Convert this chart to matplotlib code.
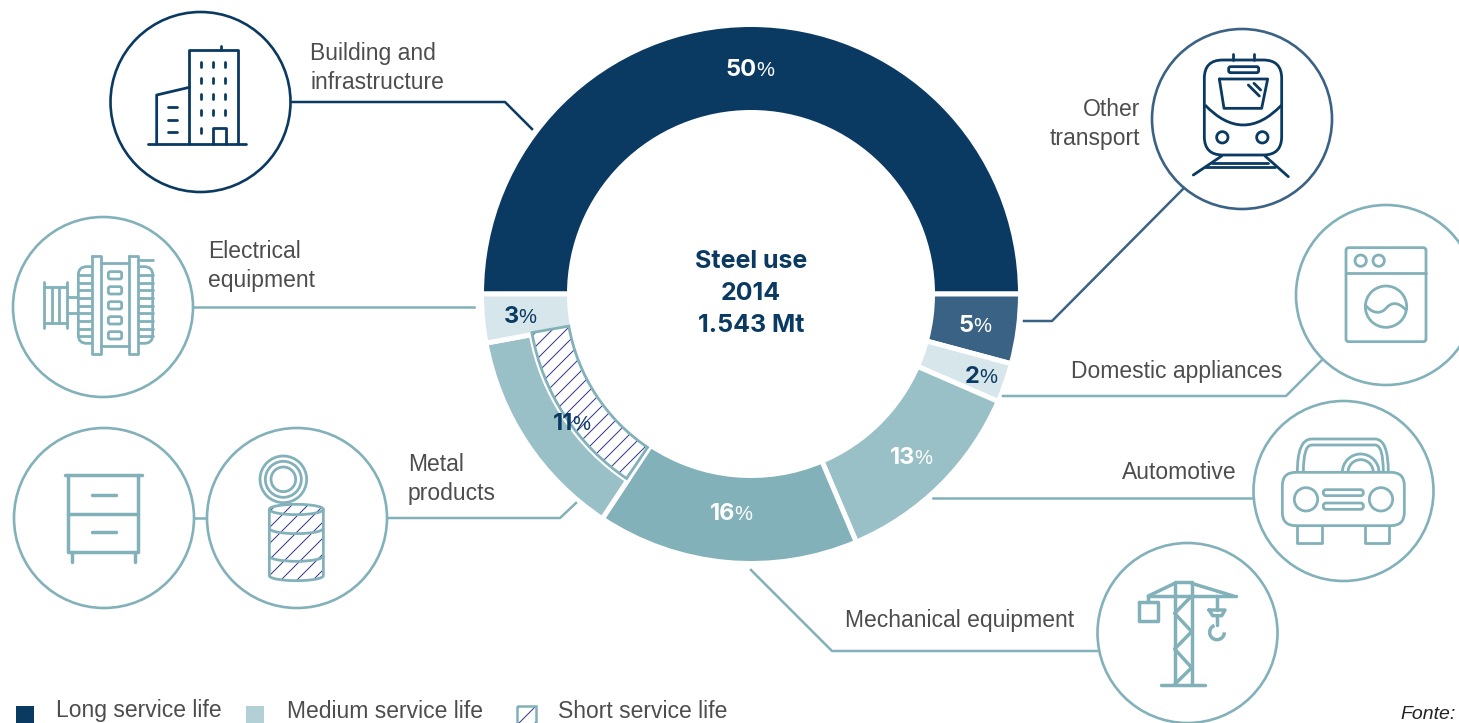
import numpy as np
import matplotlib
matplotlib.use('Agg')
import matplotlib.pyplot as plt
from matplotlib.patches import Wedge, Circle, Rectangle, Polygon, Arc, FancyBboxPatch, PathPatch
from matplotlib.path import Path

# values printed on the ring, clockwise from the top half
segments = ['Building and infrastructure', 'Other transport', 'Domestic appliances',
            'Automotive', 'Mechanical equipment', 'Metal products', 'Electrical equipment']
percents = [50, 5, 2, 13, 16, 11, 3]
# the ring is not drawn to scale, so the spans are read off the picture (degrees)
spans = [180, 15, 8.5, 43.5, 56.5, 46, 10.5]

NAVY = '#0a3a62'
BLUE = '#3a6285'
PALE = '#d6e6ea'
MID = '#9ac0c7'
TEAL = '#82b1b9'
GREY = '#4d4d4d'
HATCH = '#2f2f8f'
ring_colors = [NAVY, BLUE, PALE, MID, TEAL, MID, PALE]
pct_colors = ['white', 'white', NAVY, 'white', 'white', NAVY, NAVY]
pct_x = [757, 974, 980, 915, 735, 573, 519]
pct_y = [76, 332, 383, 464, 520, 430, 323]

legend_names = ['Long service life', 'Medium service life', 'Short service life']

plt.rcParams['font.family'] = ['Liberation Sans', 'DejaVu Sans']

fig = plt.figure(figsize=(14.59, 7.23), dpi=100)
ax = fig.add_axes([0, 0, 1, 1])
ax.set_xlim(0, 1459)
ax.set_ylim(723, 0)
ax.axis('off')

cx, cy = 751, 294
r_out, r_in = 269.5, 181.5


def hatch_lines(patch, x0, x1, y0, y1, step, zo=3):
    # 45 degree lines clipped to the patch, matplotlib's hatch spacing can't be set freely
    for c in np.arange(x0 + y0, x1 + y1, step):
        ln, = ax.plot([c - y0, c - y1], [y0, y1], color=HATCH, lw=0.7, zorder=zo)
        ln.set_clip_path(patch)


# ring
start = 180
for name, span, col in zip(segments, spans, ring_colors):
    if name == 'Metal products':
        ax.add_patch(Wedge((cx, cy), r_out, start, start + span, width=r_out - 223.5,
                           fc=col, ec='white', lw=3.6))
        band = Wedge((cx, cy), 222.5, start + 0.5, start + span + 0.5, width=37.5,
                     fc='white', ec='none', zorder=3)
        ax.add_patch(band)
        hatch_lines(band, 520, 660, 320, 490, 14)
        ax.add_patch(Wedge((cx, cy), 222.5, start + 0.5, start + span + 0.5, width=37.5,
                           fc='none', ec=TEAL, lw=2, zorder=3))
    else:
        ax.add_patch(Wedge((cx, cy), r_out, start, start + span, width=r_out - r_in,
                           fc=col, ec='white', lw=3.6))
    start = (start + span) % 360

for p, x, y, col in zip(percents, pct_x, pct_y, pct_colors):
    ax.text(x, y, str(p), ha='right', va='baseline', fontsize=17, family='Inter', fontweight='bold', color=col, zorder=5)
    ax.text(x - 1, y, '%', ha='left', va='baseline', fontsize=14.5, color=col, zorder=5)

for s, y in zip(['Steel use', '2014', '1.543 Mt'], [268, 300, 332]):
    ax.text(751, y, s, ha='center', va='baseline', fontsize=18, family='Inter', fontweight='bold', color=NAVY)


def z(ox, oy, pts):
    # icon coordinates were measured on 3x crops
    return [(ox + x / 3, oy + y / 3) for x, y in pts]


def line(ox, oy, pts, col=TEAL, lw=2, closed=False):
    pts = z(ox, oy, pts)
    if closed:
        pts = pts + [pts[0]]
    xs, ys = zip(*pts)
    ax.plot(xs, ys, color=col, lw=lw, solid_capstyle='round', solid_joinstyle='round', zorder=4)


def circ(ox, oy, x, y, r, col=TEAL, lw=2):
    ax.add_patch(Circle((ox + x / 3, oy + y / 3), r / 3, fc='none', ec=col, lw=lw, zorder=4))


def rrect(ox, oy, x0, y0, x1, y1, r, col=TEAL, lw=2, fc='none', zo=4):
    ax.add_patch(FancyBboxPatch((ox + x0 / 3 + r / 3, oy + y0 / 3 + r / 3),
                                (x1 - x0 - 2 * r) / 3, (y1 - y0 - 2 * r) / 3,
                                boxstyle='round,pad=%f,rounding_size=%f' % (r / 3, r / 3),
                                fc=fc, ec=col, lw=lw, zorder=zo))


def curve(ox, oy, verts, codes, col=TEAL, lw=2):
    ax.add_patch(PathPatch(Path(z(ox, oy, verts), codes), fc='none', ec=col, lw=lw, zorder=4))


# big circles
for x, y, col in [(200.5, 102, NAVY), (103, 307, TEAL), (104, 518, TEAL), (297, 518, TEAL),
                  (1242, 119, BLUE), (1386, 295, TEAL), (1343.5, 491, TEAL), (1187.5, 633, TEAL)]:
    ax.add_patch(Circle((x, y), 90, fc='white', ec=col, lw=1.9, zorder=2))

# leader lines
leaders = [([291, 505, 532], [102, 102, 129], NAVY),
           ([193, 474], [307, 307], TEAL),
           ([194, 207], [518, 518], TEAL),
           ([387, 560, 576], [518, 518, 503], TEAL),
           ([1024, 1052, 1183], [321, 321, 189], BLUE),
           ([1003, 1286, 1322], [396, 396, 360], TEAL),
           ([933, 1253], [498, 498], TEAL),
           ([751, 832, 1097], [570, 651, 651], TEAL)]
for xs, ys, col in leaders:
    ax.plot(xs, ys, color=col, lw=1.8, zorder=1)

# labels
labels = [('Building and', 310, 60, 'left'), ('infrastructure', 310, 89, 'left'),
          ('Electrical', 208, 258, 'left'), ('equipment', 208, 287, 'left'),
          ('Metal', 408, 471, 'left'), ('products', 408, 500, 'left'),
          ('Other', 1140, 116, 'right'), ('transport', 1140, 145, 'right'),
          ('Domestic appliances', 1071, 378, 'left'), ('Automotive', 1122, 479, 'left'),
          ('Mechanical equipment', 845, 627, 'left')]
for s, x, y, ha in labels:
    ax.text(x, y, s, ha=ha, va='baseline', fontsize=16.5, color=GREY)

# building
o = (100, 5)
line(*o, [(145, 418), (438, 418)], NAVY)
line(*o, [(268, 418), (268, 135), (413, 135), (413, 418)], NAVY)
line(*o, [(364, 135), (364, 122)], NAVY)
line(*o, [(170, 418), (170, 270), (268, 247)], NAVY)
line(*o, [(340, 418), (340, 368), (378, 368), (378, 418)], NAVY)
for wy in [172, 220, 268, 316]:
    for wx in [304, 340, 376]:
        line(*o, [(wx, wy), (wx, wy + 15)], NAVY)
line(*o, [(304, 368), (304, 383)], NAVY)
for wy in [307, 344, 380]:
    line(*o, [(205, wy), (232, wy)], NAVY)

# electrical machine
o = (0, 210)
line(*o, [(133, 215), (133, 355)])
line(*o, [(200, 215), (200, 355)])
line(*o, [(133, 232), (200, 232)])
line(*o, [(133, 340), (200, 340)])
line(*o, [(155, 232), (155, 340)])
line(*o, [(178, 232), (178, 340)])
line(*o, [(200, 262), (235, 262)])
line(*o, [(200, 310), (235, 310)])
rrect(*o, 235, 170, 458, 400, 25)
ax.add_patch(Rectangle((275 / 3, 210 + 145 / 3), 140 / 3, 280 / 3, fc='white', ec='none', zorder=4))
line(*o, [(275, 138), (302, 138), (302, 432), (275, 432)], closed=True)
line(*o, [(388, 138), (415, 138), (415, 432), (388, 432)], closed=True)
line(*o, [(302, 160), (388, 160)])
line(*o, [(302, 408), (388, 408)])
line(*o, [(415, 150), (458, 150)])
for fy in [195, 218, 241, 264, 287, 310, 333, 356, 378]:
    line(*o, [(235, fy), (272, fy)])
    line(*o, [(418, fy), (458, fy)])
for by in [185, 230, 275, 320, 365]:
    rrect(*o, 325, by, 365, by + 22, 6)

# cabinet
o = (0, 410)
line(*o, [(195, 195), (425, 195)], lw=2.5)
line(*o, [(205, 195), (205, 425), (415, 425), (415, 195)], lw=2.5)
line(*o, [(205, 312), (415, 312)], lw=2.5)
line(*o, [(275, 254), (347, 254)], lw=2.5)
line(*o, [(275, 365), (347, 365)], lw=2.5)
line(*o, [(216, 425), (216, 455)], lw=2.5)
line(*o, [(404, 425), (404, 455)], lw=2.5)

# can
for rr in [70, 54, 37]:
    circ(*o, 850, 208, rr)
t = np.linspace(0, np.pi, 30)
top = [(889 - 81 * np.cos(a), 298 - 15 * np.sin(a)) for a in t]
bot = [(889 + 81 * np.cos(a), 497 + 15 * np.sin(a)) for a in t]
can = Polygon(z(*o, top + bot), closed=True, fc='white', ec='none', zorder=3)
ax.add_patch(can)
hatch_lines(can, 265, 330, 500, 585, 16)
ax.add_patch(Polygon(z(*o, top + bot), closed=True, fc='none', ec=TEAL, lw=2, zorder=4))
for ay in [298, 355, 438]:
    ax.add_patch(Arc((889 / 3, 410 + ay / 3), 162 / 3, 32 / 3, theta1=0, theta2=180, color=TEAL, lw=2, zorder=4))

# train
o = (1140, 20)
rrect(*o, 193, 120, 425, 405, 55, NAVY)
line(*o, [(280, 120), (280, 103)], NAVY)
line(*o, [(343, 120), (343, 103)], NAVY)
rrect(*o, 266, 140, 356, 158, 6, NAVY)
line(*o, [(238, 177), (383, 177), (365, 265), (252, 265)], NAVY, closed=True)
line(*o, [(325, 195), (358, 228)], NAVY)
line(*o, [(342, 190), (362, 210)], NAVY)
curve(*o, [(195, 255), (310, 375), (425, 255)], [Path.MOVETO, Path.CURVE3, Path.CURVE3], NAVY)
circ(*o, 247, 352, 17, NAVY)
circ(*o, 367, 352, 17, NAVY)
line(*o, [(245, 408), (160, 465)], NAVY)
line(*o, [(375, 408), (445, 470)], NAVY)
line(*o, [(215, 428), (385, 428)], NAVY)
line(*o, [(195, 442), (405, 442)], NAVY)

# washing machine
rrect(*o, 618, 683, 858, 965, 8)
line(*o, [(618, 758), (858, 758)])
circ(*o, 662, 722, 17)
circ(*o, 716, 722, 17)
circ(*o, 738, 860, 62)
curve(*o, [(676, 855), (700, 885), (725, 880), (738, 865), (755, 845), (775, 845), (800, 872)],
      [Path.MOVETO] + [Path.CURVE4] * 6)

# car
o = (1090, 395)
rrect(*o, 577, 232, 943, 392, 40)
curve(*o, [(622, 232), (622, 132), (665, 132), (855, 132), (895, 132), (895, 232)],
      [Path.MOVETO, Path.CURVE3, Path.CURVE3, Path.LINETO, Path.CURVE3, Path.CURVE3])
curve(*o, [(640, 232), (640, 150), (665, 150), (855, 150), (880, 150), (880, 232)],
      [Path.MOVETO, Path.CURVE3, Path.CURVE3, Path.LINETO, Path.CURVE3, Path.CURVE3])
for d in [110, 76]:
    ax.add_patch(Arc((1090 + 812 / 3, 395 + 232 / 3), d / 3, d / 3, theta1=180, theta2=360, color=TEAL, lw=2, zorder=4))
circ(*o, 648, 313, 35)
circ(*o, 873, 313, 35)
rrect(*o, 700, 284, 820, 302, 8)
rrect(*o, 700, 324, 820, 343, 8)
line(*o, [(622, 392), (622, 443), (695, 443), (695, 392)])
line(*o, [(825, 392), (825, 443), (897, 443), (897, 392)])

# crane
line(*o, [(254, 868), (254, 562), (305, 562), (305, 868)], lw=2.5)
line(*o, [(175, 603), (437, 603)], lw=2.5)
line(*o, [(213, 870), (345, 870)], lw=2.5)
line(*o, [(175, 603), (254, 565)], lw=2.5)
line(*o, [(305, 565), (430, 603)], lw=2.5)
line(*o, [(305, 603), (254, 655), (305, 710), (254, 762), (305, 818), (254, 868)], lw=2.5)
line(*o, [(148, 620), (205, 620), (205, 678), (148, 678)], lw=2.5, closed=True)
line(*o, [(175, 603), (175, 620)], lw=2.5)
line(*o, [(381, 603), (381, 645)], lw=2.5)
line(*o, [(357, 645), (405, 645), (395, 662), (368, 662)], lw=2.5, closed=True)
line(*o, [(381, 662), (381, 690)], lw=2.5)
ax.add_patch(Arc((1090 + 381 / 3, 395 + 712 / 3), 44 / 3, 44 / 3, theta1=0, theta2=250, color=TEAL, lw=2.5, zorder=4))

# legend squares run off the bottom edge as in the source
ax.add_patch(Rectangle((16, 706), 18, 20, fc=NAVY, ec='none'))
ax.add_patch(Rectangle((246, 706), 18, 20, fc='#b2d0d6', ec='none'))
short_box = Rectangle((517, 706), 19, 20, fc='white', ec='none')
ax.add_patch(short_box)
hatch_lines(short_box, 510, 540, 700, 730, 16)
ax.add_patch(Rectangle((517, 706), 19, 20, fc='none', ec=TEAL, lw=1.8, zorder=4))
for s, x in zip(legend_names, [56, 287, 558]):
    ax.text(x, 717.5, s, ha='left', va='baseline', fontsize=16.5, color=GREY)

ax.text(1400, 719, 'Fonte:', ha='left', va='baseline', fontsize=14, style='italic', color='#222222')

fig.savefig('out.png', dpi=100)
